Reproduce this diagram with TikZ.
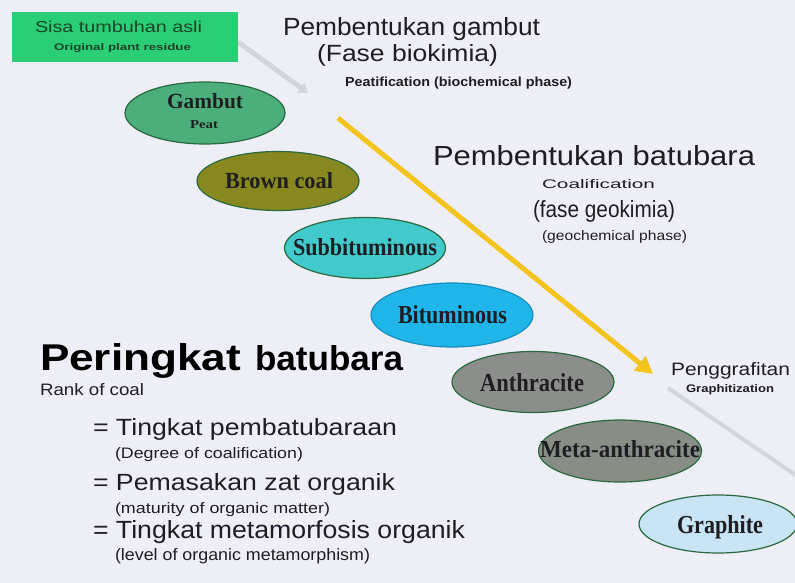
\documentclass[tikz,border=0pt]{standalone}
\usepackage{fontspec}
\setmainfont{Liberation Serif}
\setsansfont{Liberation Sans}
\usepackage{graphicx}
\usetikzlibrary{shapes.geometric,arrows.meta}
\definecolor{bgc}{RGB}{238,239,246}
\definecolor{boxg}{RGB}{42,206,116}
\definecolor{boxtxt}{RGB}{28,66,40}
\definecolor{ink}{RGB}{30,30,34}
\definecolor{edgeg}{RGB}{40,105,62}
\definecolor{fgambut}{RGB}{76,174,122}
\definecolor{fbrown}{RGB}{136,136,32}
\definecolor{fsubb}{RGB}{66,202,204}
\definecolor{fbitu}{RGB}{32,182,234}
\definecolor{ebitu}{RGB}{24,140,190}
\definecolor{fanth}{RGB}{140,142,140}
\definecolor{fmeta}{RGB}{136,142,134}
\definecolor{fgraph}{RGB}{200,228,245}
\definecolor{yarrow}{RGB}{244,196,30}
\definecolor{garrow}{RGB}{212,212,220}
\newcommand\fitt[3]{\resizebox{#1pt}{#2pt}{#3}}
\tikzset{
  txt/.style={anchor=base west,inner sep=0pt,outer sep=0pt,text=ink},
  rankell/.style={ellipse,draw=edgeg,line width=1.2pt,inner sep=0pt},
}
\begin{document}
\begin{tikzpicture}[x=1pt,y=-1pt]
\useasboundingbox (0,0) rectangle (795,583);
\fill[bgc] (0,0) rectangle (795,583);

% faint grey arrows
\coordinate (ga1) at (238,42);
\coordinate (ga2) at (308,93);
\draw[garrow,line width=5pt,-{Triangle[length=9pt,width=12pt]}] (ga1) -- (ga2);
\coordinate (gb1) at (668,388);
\coordinate (gb2) at (797,476);
\draw[garrow,line width=4pt] (gb1) -- (gb2);

% green box
\node[fill=boxg,minimum width=226pt,minimum height=50pt,anchor=north west,inner sep=0pt] (box) at (12,12) {};
\node[txt,text=boxtxt] (sisa) at (35,33) {\fitt{167}{11.5}{\sffamily Sisa tumbuhan asli}};
\node[txt,text=boxtxt] (orig) at (54,51) {\fitt{137}{7}{\sffamily\bfseries Original plant residue}};

% top texts
\node[txt] (pg) at (283,36) {\fitt{257}{18}{\sffamily Pembentukan gambut}};
\node[txt] (fb) at (317,62) {\fitt{181}{17}{\sffamily (Fase biokimia)}};
\node[txt] (peat) at (345,87) {\fitt{227}{9.5}{\sffamily\bfseries Peatification (biochemical phase)}};

\node[txt] (pb) at (433,165) {\fitt{322}{20}{\sffamily Pembentukan batubara}};
\node[txt] (coal) at (542,188) {\fitt{113}{9}{\sffamily Coalification}};
\node[txt] (fg) at (533,217) {\fitt{142}{17}{\sffamily (fase geokimia)}};
\node[txt] (gp) at (542,240) {\fitt{145}{10}{\sffamily (geochemical phase)}};

\node[txt] (peng) at (671,375) {\fitt{119}{13}{\sffamily Penggrafitan}};
\node[txt] (graphz) at (686,392) {\fitt{88}{8}{\sffamily\bfseries Graphitization}};

% ellipses
\node[rankell,fill=fgambut,minimum width=160pt,minimum height=62pt] (gambut) at (205,113) {};
\node[rankell,fill=fbrown,minimum width=162pt,minimum height=59pt] (brown) at (278,181) {};
\node[rankell,fill=fsubb,minimum width=161pt,minimum height=61pt] (subb) at (365,248) {};
\node[rankell,draw=ebitu,fill=fbitu,minimum width=162pt,minimum height=64pt] (bitu) at (452,315) {};
\node[rankell,fill=fanth,minimum width=162pt,minimum height=61pt] (anth) at (533,382) {};
\node[rankell,fill=fmeta,minimum width=163pt,minimum height=62pt] (meta) at (620,451) {};
\node[rankell,fill=fgraph,minimum width=158pt,minimum height=58pt] (graph) at (718,524) {};

\node[txt] (tgambut) at (167,109) {\fitt{76}{15}{\bfseries Gambut}};
\node[txt] (tpeat) at (190,129) {\fitt{28}{8}{\bfseries Peat}};
\node[txt] (tbrown) at (225,188) {\fitt{108}{16}{\bfseries Brown coal}};
\node[txt] (tsubb) at (293,255) {\fitt{144}{17}{\bfseries Subbituminous}};
\node[txt] (tbitu) at (398,323) {\fitt{109}{18}{\bfseries Bituminous}};
\node[txt] (tanth) at (480,391) {\fitt{104}{18}{\bfseries Anthracite}};
\node[txt] (tmeta) at (540,457) {\fitt{160}{17}{\bfseries Meta-anthracite}};
\node[txt] (tgraph) at (677,533) {\fitt{86}{18}{\bfseries Graphite}};

% yellow arrow
\coordinate (ya1) at (338,118);
\coordinate (ya2) at (653,374);
\draw[yarrow,line width=5pt,-{Triangle[length=17pt,width=18pt]}] (ya1) -- (ya2);

% rank texts
\node[txt,text=black] (per) at (40,370) {\fitt{201}{27}{\sffamily\bfseries Peringkat}};
\node[txt,text=black] (bat) at (255,370) {\fitt{148}{25}{\sffamily\bfseries batubara}};
\node[txt] (rank) at (40,395) {\fitt{104}{12}{\sffamily Rank of coal}};
\node[txt] (l1) at (93,435) {\fitt{304}{17}{\sffamily = Tingkat pembatubaraan}};
\node[txt] (s1) at (115,458) {\fitt{188}{11}{\sffamily (Degree of coalification)}};
\node[txt] (l2) at (93,490) {\fitt{302}{17}{\sffamily = Pemasakan zat organik}};
\node[txt] (s2) at (115,513) {\fitt{215}{11}{\sffamily (maturity of organic matter)}};
\node[txt] (l3) at (93,538) {\fitt{372}{18}{\sffamily = Tingkat metamorfosis organik}};
\node[txt] (s3) at (115,560) {\fitt{255}{12}{\sffamily (level of organic metamorphism)}};
\end{tikzpicture}
\end{document}
